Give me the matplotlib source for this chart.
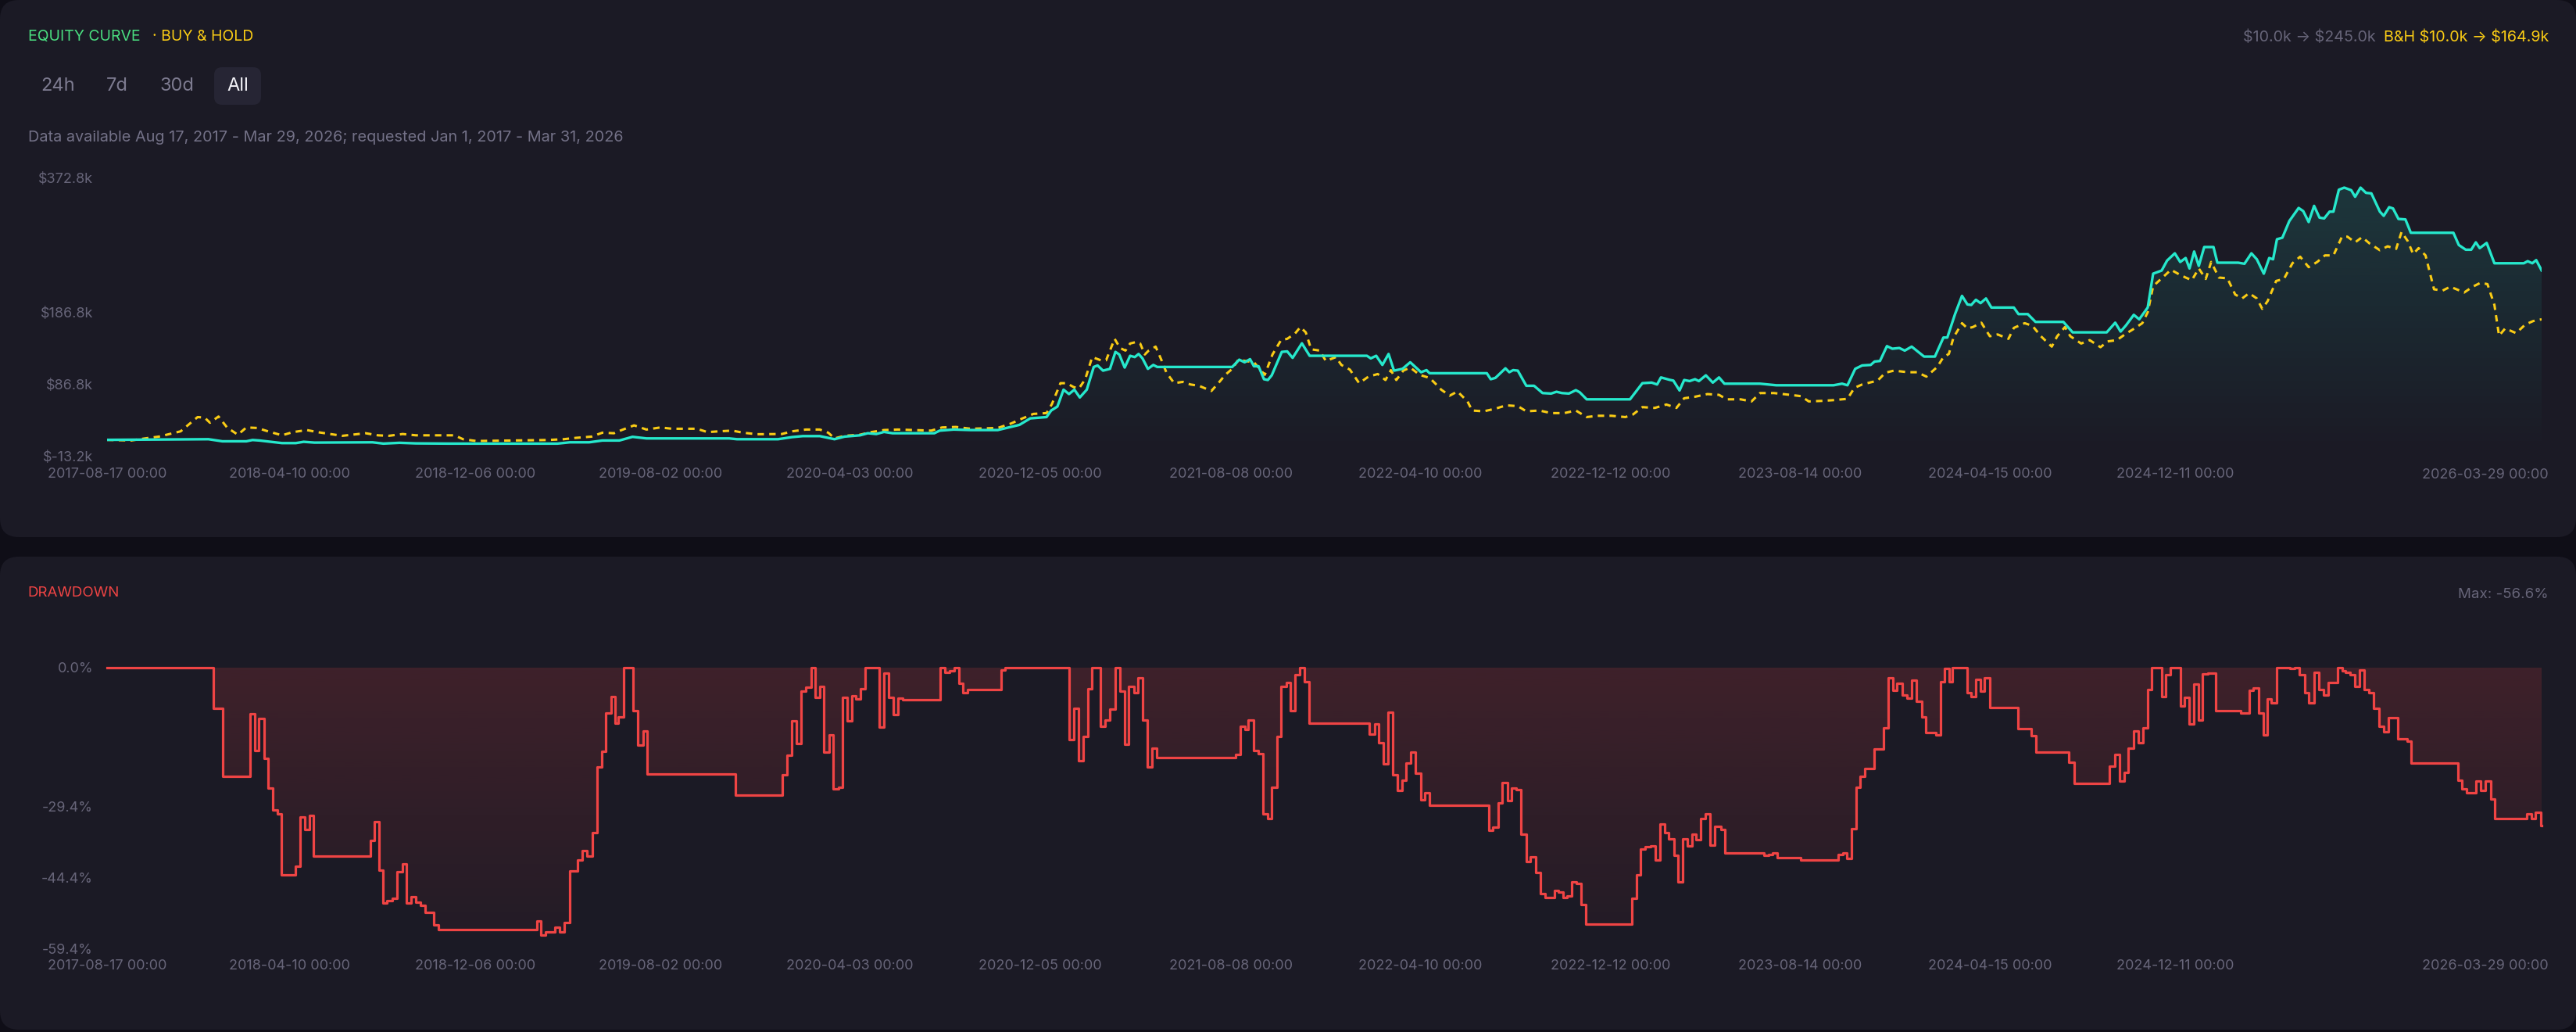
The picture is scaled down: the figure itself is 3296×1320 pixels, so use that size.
import matplotlib
matplotlib.use('Agg')
import matplotlib.pyplot as plt
import numpy as np
import pandas as pd
from matplotlib.colors import to_rgb
from matplotlib.patches import FancyBboxPatch
from matplotlib.transforms import IdentityTransform

plt.rcParams['font.family'] = ['Inter', 'DejaVu Sans']

# ---- data (values in $k and %) ----
EQ_DATES = [
    '2017-08-17', '2017-12-26', '2018-01-13', '2018-02-13', '2018-02-21', '2018-03-02', '2018-03-31',
    '2018-04-18', '2018-04-28', '2018-05-12', '2018-07-26', '2018-08-09', '2018-08-30', '2018-09-20',
    '2018-11-01', '2019-03-22', '2019-04-07', '2019-05-02', '2019-05-19', '2019-06-10', '2019-06-27',
    '2019-07-15', '2019-10-30', '2019-11-09', '2020-01-01', '2020-01-19', '2020-02-02', '2020-02-24',
    '2020-03-06', '2020-03-14', '2020-03-27', '2020-04-16', '2020-04-26', '2020-05-07', '2020-05-17',
    '2020-05-28', '2020-07-21', '2020-07-28', '2020-08-15', '2020-09-06', '2020-10-11', '2020-10-25',
    '2020-11-08', '2020-11-22', '2020-12-13', '2020-12-19', '2020-12-27', '2021-01-04', '2021-01-11',
    '2021-01-18', '2021-01-25', '2021-02-03', '2021-02-12', '2021-02-17', '2021-02-24', '2021-03-05',
    '2021-03-12', '2021-03-17', '2021-03-24', '2021-03-31', '2021-04-06', '2021-04-11', '2021-04-16',
    '2021-04-23', '2021-04-30', '2021-05-05', '2021-08-10', '2021-08-19', '2021-08-26', '2021-09-02',
    '2021-09-07', '2021-09-13', '2021-09-20', '2021-09-25', '2021-09-30', '2021-10-13', '2021-10-20',
    '2021-10-27', '2021-11-08', '2021-11-18', '2022-01-31', '2022-02-05', '2022-02-12', '2022-02-20',
    '2022-02-28', '2022-03-07', '2022-03-18', '2022-03-28', '2022-04-11', '2022-04-18', '2022-04-22',
    '2022-07-05', '2022-07-10', '2022-07-16', '2022-07-29', '2022-08-03', '2022-08-08', '2022-08-14',
    '2022-08-25', '2022-09-04', '2022-09-15', '2022-09-26', '2022-10-03', '2022-10-10', '2022-10-19',
    '2022-10-28', '2022-11-02', '2022-11-11', '2023-01-06', '2023-01-22', '2023-02-03', '2023-02-10',
    '2023-02-15', '2023-02-26', '2023-03-03', '2023-03-11', '2023-03-17', '2023-03-24', '2023-03-31',
    '2023-04-05', '2023-04-14', '2023-04-23', '2023-05-01', '2023-05-08', '2023-06-23', '2023-07-04',
    '2023-07-14', '2023-09-26', '2023-10-07', '2023-10-14', '2023-10-24', '2023-11-02', '2023-11-13',
    '2023-11-18', '2023-11-25', '2023-12-04', '2023-12-11', '2023-12-20', '2023-12-27', '2024-01-05',
    '2024-01-21', '2024-02-04', '2024-02-15', '2024-02-20', '2024-03-01', '2024-03-10', '2024-03-17',
    '2024-03-22', '2024-03-28', '2024-04-03', '2024-04-10', '2024-04-17', '2024-05-16', '2024-05-22',
    '2024-06-03', '2024-06-13', '2024-07-19', '2024-07-31', '2024-09-13', '2024-09-24', '2024-10-01',
    '2024-10-08', '2024-10-18', '2024-10-25', '2024-11-05', '2024-11-12', '2024-11-23', '2024-11-30',
    '2024-12-10', '2024-12-17', '2024-12-24', '2024-12-29', '2025-01-04', '2025-01-10', '2025-01-17',
    '2025-01-29', '2025-02-03', '2025-03-02', '2025-03-10', '2025-03-19', '2025-03-26', '2025-04-04',
    '2025-04-11', '2025-04-16', '2025-04-21', '2025-04-28', '2025-05-07', '2025-05-19', '2025-05-25',
    '2025-06-01', '2025-06-08', '2025-06-15', '2025-06-21', '2025-06-28', '2025-07-03', '2025-07-10',
    '2025-07-17', '2025-07-26', '2025-07-31', '2025-08-07', '2025-08-14', '2025-08-21', '2025-09-01',
    '2025-09-06', '2025-09-13', '2025-09-18', '2025-09-25', '2025-10-04', '2025-10-11', '2025-12-05',
    '2025-12-12', '2025-12-21', '2025-12-28', '2026-01-03', '2026-01-08', '2026-01-17', '2026-01-27',
    '2026-03-06', '2026-03-11', '2026-03-17', '2026-03-22', '2026-03-29',
]
EQ_VALUES = [
    10.0, 10.9, 8.0, 8.0, 9.8, 9.1, 5.5,
    5.5, 7.3, 6.2, 6.6, 4.8, 5.9, 5.1,
    4.8, 4.8, 6.6, 6.6, 9.1, 9.1, 14.2,
    12.0, 12.0, 10.9, 10.9, 13.8, 15.2, 15.2,
    12.7, 10.9, 14.5, 16.3, 19.2, 18.1, 21.0,
    19.2, 19.2, 22.8, 24.3, 23.6, 23.6, 27.2,
    30.8, 39.8, 41.6, 50.7, 56.1, 79.6, 73.5,
    79.6, 68.8, 79.6, 111.1, 113.2, 106.0, 108.5,
    132.0, 128.4, 110.3, 126.6, 124.8, 129.1, 123.0,
    108.5, 113.9, 111.1, 111.1, 121.2, 117.6, 121.9,
    112.1, 112.1, 94.1, 93.0, 99.5, 132.0, 132.7,
    123.7, 143.9, 126.6, 126.6, 123.0, 126.6, 113.9,
    129.1, 106.0, 108.5, 117.6, 103.8, 106.7, 102.4,
    102.4, 94.1, 95.9, 109.2, 103.8, 106.7, 106.0,
    85.0, 85.0, 74.9, 74.2, 76.7, 74.9, 74.2,
    78.9, 76.0, 66.2, 66.2, 88.6, 89.4, 86.8,
    96.6, 93.3, 92.2, 78.5, 93.0, 91.5, 94.1,
    91.5, 99.5, 89.4, 96.6, 87.9, 87.9, 86.8,
    85.7, 85.7, 87.9, 85.7, 108.5, 113.2, 113.9,
    118.6, 119.4, 140.0, 136.4, 137.4, 133.8, 139.3,
    125.5, 125.5, 151.9, 151.9, 184.4, 209.7, 197.8,
    197.1, 204.3, 199.6, 206.1, 193.5, 193.5, 184.4,
    184.4, 173.6, 173.6, 159.1, 159.1, 172.5, 160.2,
    168.9, 183.4, 177.2, 193.5, 240.5, 244.8, 258.6,
    268.7, 256.7, 262.2, 247.7, 271.2, 251.3, 277.4,
    277.4, 255.7, 255.7, 254.2, 268.7, 260.4, 240.5,
    262.2, 260.4, 288.2, 290.4, 313.5, 331.6, 327.2,
    312.1, 334.5, 318.2, 317.1, 326.5, 326.5, 356.9,
    359.8, 356.2, 347.1, 359.8, 352.6, 351.8, 326.5,
    320.7, 332.7, 330.9, 316.4, 315.7, 297.2, 297.2,
    280.2, 273.7, 273.7, 283.9, 275.9, 283.1, 254.9,
    254.9, 257.8, 254.9, 259.3, 245.0,
]

BH_DATES = [
    '2017-08-17', '2017-09-17', '2017-10-05', '2017-10-23', '2017-11-20', '2017-12-04', '2017-12-12',
    '2017-12-21', '2017-12-28', '2018-01-08', '2018-01-19', '2018-02-02', '2018-02-13', '2018-02-27',
    '2018-03-13', '2018-03-31', '2018-04-14', '2018-05-02', '2018-05-16', '2018-06-17', '2018-07-17',
    '2018-08-02', '2018-08-16', '2018-09-03', '2018-09-20', '2018-11-09', '2018-11-20', '2018-12-07',
    '2019-03-09', '2019-03-30', '2019-04-14', '2019-05-05', '2019-05-19', '2019-06-03', '2019-06-13',
    '2019-06-29', '2019-07-15', '2019-08-02', '2019-08-17', '2019-09-18', '2019-10-02', '2019-10-16',
    '2019-11-03', '2019-11-17', '2019-12-05', '2020-01-06', '2020-01-19', '2020-02-06', '2020-02-24',
    '2020-03-06', '2020-03-14', '2020-03-27', '2020-04-16', '2020-04-30', '2020-05-17', '2020-06-04',
    '2020-07-17', '2020-07-31', '2020-08-18', '2020-09-06', '2020-10-11', '2020-10-28', '2020-11-12',
    '2020-11-26', '2020-12-13', '2020-12-20', '2020-12-31', '2021-01-08', '2021-01-17', '2021-01-24',
    '2021-02-01', '2021-02-10', '2021-02-21', '2021-02-28', '2021-03-11', '2021-03-18', '2021-03-25',
    '2021-03-31', '2021-04-08', '2021-04-13', '2021-04-19', '2021-04-24', '2021-05-03', '2021-05-11',
    '2021-05-17', '2021-05-27', '2021-06-07', '2021-06-17', '2021-06-28', '2021-07-14', '2021-07-23',
    '2021-08-01', '2021-08-10', '2021-08-18', '2021-08-27', '2021-09-07', '2021-09-21', '2021-10-01',
    '2021-10-12', '2021-10-20', '2021-10-30', '2021-11-06', '2021-11-13', '2021-11-20', '2021-12-01',
    '2021-12-09', '2021-12-22', '2021-12-29', '2022-01-09', '2022-01-21', '2022-02-02', '2022-02-14',
    '2022-02-24', '2022-03-03', '2022-03-10', '2022-03-19', '2022-03-28', '2022-04-09', '2022-04-22',
    '2022-04-29', '2022-05-07', '2022-05-18', '2022-05-28', '2022-06-10', '2022-06-16', '2022-07-01',
    '2022-07-16', '2022-07-30', '2022-08-14', '2022-08-25', '2022-09-11', '2022-09-26', '2022-10-13',
    '2022-10-28', '2022-11-11', '2022-11-25', '2022-12-13', '2022-12-31', '2023-01-10', '2023-01-22',
    '2023-02-07', '2023-02-22', '2023-03-07', '2023-03-17', '2023-03-31', '2023-04-16', '2023-05-01',
    '2023-05-11', '2023-05-29', '2023-06-12', '2023-06-23', '2023-07-11', '2023-08-01', '2023-08-15',
    '2023-08-25', '2023-09-12', '2023-09-26', '2023-10-14', '2023-10-23', '2023-11-02', '2023-11-22',
    '2023-12-02', '2023-12-13', '2023-12-31', '2024-01-12', '2024-01-24', '2024-02-07', '2024-02-15',
    '2024-02-22', '2024-02-28', '2024-03-10', '2024-03-17', '2024-03-24', '2024-04-04', '2024-04-15',
    '2024-04-25', '2024-05-09', '2024-05-16', '2024-05-30', '2024-06-09', '2024-06-20', '2024-07-04',
    '2024-07-11', '2024-07-21', '2024-07-28', '2024-08-11', '2024-08-22', '2024-09-05', '2024-09-14',
    '2024-09-26', '2024-10-08', '2024-10-20', '2024-10-29', '2024-11-05', '2024-11-12', '2024-11-26',
    '2024-12-05', '2024-12-14', '2024-12-24', '2025-01-01', '2025-01-10', '2025-01-19', '2025-01-26',
    '2025-02-05', '2025-02-16', '2025-02-26', '2025-03-07', '2025-03-16', '2025-03-26', '2025-04-02',
    '2025-04-09', '2025-04-20', '2025-04-30', '2025-05-11', '2025-05-21', '2025-06-01', '2025-06-12',
    '2025-06-22', '2025-07-03', '2025-07-14', '2025-07-21', '2025-07-31', '2025-08-09', '2025-08-19',
    '2025-09-01', '2025-09-11', '2025-09-22', '2025-09-29', '2025-10-07', '2025-10-14', '2025-10-21',
    '2025-10-30', '2025-11-10', '2025-11-21', '2025-12-01', '2025-12-19', '2025-12-30', '2026-01-09',
    '2026-01-18', '2026-01-27', '2026-02-02', '2026-02-10', '2026-02-24', '2026-03-08', '2026-03-18',
    '2026-03-29',
]
BH_VALUES = [
    10.0, 9.1, 12.0, 14.5, 21.8, 34.4, 41.6,
    40.9, 33.7, 42.4, 27.2, 17.1, 27.2, 26.5,
    21.8, 16.3, 20.7, 23.6, 20.7, 15.6, 19.2,
    16.3, 15.6, 18.1, 16.3, 16.3, 10.9, 8.4,
    9.8, 10.9, 12.7, 14.5, 19.9, 19.2, 23.6,
    30.1, 24.3, 27.2, 25.4, 25.4, 20.7, 21.8,
    22.8, 19.9, 17.8, 18.1, 21.8, 24.3, 24.3,
    19.9, 12.0, 15.6, 17.1, 20.7, 23.6, 24.3,
    22.8, 27.2, 27.9, 25.4, 26.5, 32.6, 39.8,
    46.0, 47.1, 59.7, 88.6, 88.6, 83.2, 81.4,
    94.1, 124.8, 120.4, 120.4, 150.1, 137.4, 133.8,
    143.6, 145.8, 143.6, 128.4, 133.8, 139.3, 119.4,
    103.1, 88.6, 90.4, 86.8, 85.0, 77.8, 88.6,
    100.2, 108.5, 121.2, 119.4, 117.6, 100.2, 128.4,
    148.3, 150.1, 157.3, 166.4, 159.1, 135.6, 133.8,
    119.4, 124.8, 113.9, 107.4, 88.6, 97.7, 101.3,
    93.0, 106.7, 93.0, 106.0, 110.3, 100.2, 95.9,
    88.6, 79.6, 71.3, 77.1, 63.3, 50.7, 49.6,
    53.2, 57.9, 56.8, 49.6, 50.7, 47.1, 47.1,
    50.7, 41.6, 43.4, 43.4, 41.6, 45.3, 55.4,
    54.3, 59.0, 54.3, 67.7, 69.8, 73.5, 72.4,
    66.2, 66.2, 63.3, 74.9, 74.9, 72.4, 70.6,
    63.3, 64.1, 65.1, 66.9, 82.1, 86.8, 92.2,
    103.1, 106.0, 103.8, 103.8, 97.7, 111.1, 124.8,
    129.1, 151.9, 171.8, 164.6, 166.4, 172.5, 153.7,
    156.2, 150.1, 165.3, 171.8, 168.2, 153.7, 139.3,
    153.7, 166.4, 153.7, 143.6, 148.3, 138.5, 146.5,
    148.3, 157.3, 165.3, 171.8, 187.0, 223.1, 236.9,
    245.9, 240.5, 235.1, 231.4, 247.7, 233.2, 256.7,
    235.1, 234.0, 211.6, 206.1, 213.4, 206.1, 191.7,
    202.5, 230.4, 233.2, 254.9, 264.0, 249.5, 256.7,
    265.8, 265.8, 291.8, 291.8, 283.9, 291.1, 282.1,
    273.0, 278.4, 274.8, 298.3, 285.7, 267.6, 275.9,
    265.8, 218.8, 217.0, 222.4, 214.4, 222.4, 227.8,
    226.0, 197.1, 154.4, 164.6, 158.0, 170.0, 174.7,
    177.2,
]

DD_DATES = [
    '2017-08-17', '2018-01-01', '2018-01-13', '2018-02-18', '2018-02-24', '2018-03-01', '2018-03-08',
    '2018-03-13', '2018-03-19', '2018-03-25', '2018-03-30', '2018-04-17', '2018-04-23', '2018-04-30',
    '2018-05-06', '2018-05-11', '2018-07-23', '2018-07-28', '2018-08-03', '2018-08-09', '2018-08-14',
    '2018-08-21', '2018-08-27', '2018-09-03', '2018-09-08', '2018-09-14', '2018-09-20', '2018-09-26',
    '2018-10-02', '2018-10-13', '2018-10-19', '2019-02-23', '2019-03-01', '2019-03-07', '2019-03-19',
    '2019-03-25', '2019-03-31', '2019-04-07', '2019-04-17', '2019-04-23', '2019-04-29', '2019-05-06',
    '2019-05-12', '2019-05-18', '2019-05-23', '2019-05-30', '2019-06-04', '2019-06-09', '2019-06-16',
    '2019-06-28', '2019-07-04', '2019-07-11', '2019-07-16', '2019-11-07', '2020-01-07', '2020-01-13',
    '2020-01-19', '2020-01-25', '2020-01-31', '2020-02-06', '2020-02-13', '2020-02-18', '2020-02-24',
    '2020-02-29', '2020-03-07', '2020-03-12', '2020-03-19', '2020-03-24', '2020-03-30', '2020-04-05',
    '2020-04-11', '2020-04-17', '2020-04-23', '2020-05-11', '2020-05-17', '2020-05-23', '2020-05-29',
    '2020-06-04', '2020-06-10', '2020-07-29', '2020-08-04', '2020-08-10', '2020-08-16', '2020-08-22',
    '2020-08-27', '2020-09-02', '2020-10-15', '2020-10-20', '2021-01-11', '2021-01-17', '2021-01-23',
    '2021-01-29', '2021-02-04', '2021-02-10', '2021-02-21', '2021-02-27', '2021-03-05', '2021-03-12',
    '2021-03-18', '2021-03-24', '2021-03-29', '2021-04-05', '2021-04-10', '2021-04-16', '2021-04-22',
    '2021-04-28', '2021-05-04', '2021-08-14', '2021-08-20', '2021-08-26', '2021-08-31', '2021-09-07',
    '2021-09-13', '2021-09-19', '2021-09-25', '2021-09-30', '2021-10-07', '2021-10-12', '2021-10-19',
    '2021-10-24', '2021-10-30', '2021-11-05', '2021-11-11', '2021-11-17', '2022-02-03', '2022-02-10',
    '2022-02-15', '2022-02-21', '2022-02-27', '2022-03-05', '2022-03-11', '2022-03-17', '2022-03-23',
    '2022-03-29', '2022-04-04', '2022-04-11', '2022-04-16', '2022-04-22', '2022-07-08', '2022-07-13',
    '2022-07-20', '2022-07-25', '2022-08-01', '2022-08-06', '2022-08-12', '2022-08-18', '2022-08-25',
    '2022-08-30', '2022-09-06', '2022-09-12', '2022-09-18', '2022-09-30', '2022-10-05', '2022-10-12',
    '2022-10-17', '2022-10-23', '2022-10-29', '2022-11-04', '2022-11-10', '2023-01-08', '2023-01-14',
    '2023-01-20', '2023-01-26', '2023-02-02', '2023-02-08', '2023-02-14', '2023-02-20', '2023-02-25',
    '2023-03-04', '2023-03-09', '2023-03-15', '2023-03-21', '2023-03-27', '2023-04-01', '2023-04-07',
    '2023-04-13', '2023-04-19', '2023-04-25', '2023-05-04', '2023-05-09', '2023-06-28', '2023-07-04',
    '2023-07-09', '2023-07-15', '2023-08-15', '2023-10-02', '2023-10-08', '2023-10-13', '2023-10-19',
    '2023-10-25', '2023-10-30', '2023-11-05', '2023-11-18', '2023-11-30', '2023-12-06', '2023-12-12',
    '2023-12-17', '2023-12-24', '2023-12-30', '2024-01-05', '2024-01-11', '2024-01-18', '2024-01-23',
    '2024-02-05', '2024-02-11', '2024-02-16', '2024-02-22', '2024-02-27', '2024-03-17', '2024-03-22',
    '2024-03-28', '2024-04-03', '2024-04-08', '2024-04-15', '2024-05-21', '2024-06-07', '2024-06-14',
    '2024-07-26', '2024-08-02', '2024-09-17', '2024-09-24', '2024-09-30', '2024-10-06', '2024-10-11',
    '2024-10-18', '2024-10-24', '2024-10-30', '2024-11-05', '2024-11-10', '2024-11-23', '2024-11-28',
    '2024-12-04', '2024-12-17', '2024-12-22', '2024-12-29', '2025-01-04', '2025-01-10', '2025-01-15',
    '2025-01-22', '2025-02-01', '2025-03-05', '2025-03-16', '2025-03-21', '2025-03-28', '2025-04-03',
    '2025-04-09', '2025-04-14', '2025-04-21', '2025-05-08', '2025-05-14', '2025-05-20', '2025-05-27',
    '2025-06-01', '2025-06-08', '2025-06-14', '2025-06-20', '2025-06-26', '2025-07-02', '2025-07-08',
    '2025-07-14', '2025-07-19', '2025-07-25', '2025-07-31', '2025-08-06', '2025-08-12', '2025-08-18',
    '2025-08-24', '2025-08-31', '2025-09-06', '2025-09-12', '2025-09-24', '2025-10-06', '2025-10-11',
    '2025-12-11', '2025-12-16', '2025-12-22', '2026-01-03', '2026-01-09', '2026-01-15', '2026-01-22',
    '2026-01-27', '2026-03-10', '2026-03-16', '2026-03-21', '2026-03-28', '2026-03-29',
]
DD_VALUES = [
    0.0, -8.6, -23.0, -9.9, -17.6, -10.9, -19.2,
    -25.5, -30.1, -30.9, -43.9, -42.1, -31.6, -34.3,
    -31.3, -39.9, -36.6, -32.7, -42.8, -49.8, -49.3,
    -48.8, -43.2, -41.6, -49.8, -48.5, -49.7, -50.3,
    -51.8, -54.4, -55.4, -53.6, -56.6, -56.0, -54.9,
    -55.9, -53.9, -43.1, -40.7, -38.8, -39.9, -35.0,
    -21.1, -17.8, -9.7, -6.2, -11.8, -10.5, 0.0,
    -9.2, -16.4, -13.5, -22.6, -27.0, -22.8, -18.6,
    -11.3, -16.1, -5.1, -4.2, 0.0, -6.3, -4.1,
    -17.9, -14.3, -25.7, -25.3, -6.4, -11.3, -6.1,
    -6.7, -4.6, 0.0, -12.6, -1.3, -6.4, -10.0,
    -6.5, -6.8, 0.0, -1.1, -0.8, 0.0, -3.4,
    -5.3, -4.7, -0.5, 0.0, -15.3, -8.7, -19.7,
    -14.6, -4.6, 0.0, -12.5, -11.2, -8.8, 0.0,
    -5.1, -16.3, -4.1, -5.4, -2.2, -11.2, -21.1,
    -17.1, -19.1, -18.4, -12.5, -13.2, -11.1, -17.6,
    -18.2, -30.9, -32.0, -25.3, -14.6, -4.1, -3.3,
    -9.2, -1.6, 0.0, -3.0, -11.8, -14.1, -12.0,
    -15.9, -20.4, -9.5, -22.8, -26.1, -23.9, -20.2,
    -18.0, -22.4, -28.0, -26.6, -29.1, -34.5, -33.8,
    -28.6, -24.3, -28.1, -25.5, -25.9, -35.3, -41.1,
    -40.1, -43.4, -47.8, -48.7, -47.2, -47.5, -48.6,
    -48.3, -45.3, -45.7, -50.1, -54.2, -48.9, -43.9,
    -38.4, -38.0, -37.8, -40.8, -33.2, -35.0, -36.3,
    -39.7, -45.4, -36.3, -37.8, -35.3, -36.4, -32.0,
    -30.9, -37.6, -33.6, -34.3, -39.3, -39.7, -39.5,
    -39.3, -40.3, -40.7, -39.6, -39.3, -40.4, -34.1,
    -25.3, -23.0, -21.4, -17.2, -12.8, -2.3, -4.9,
    -3.4, -5.9, -6.6, -2.8, -7.2, -10.5, -13.8,
    -14.3, -3.0, -0.3, -3.0, 0.0, -5.3, -6.2,
    -2.6, -5.1, -2.3, -8.5, -13.0, -14.5, -18.0,
    -20.0, -24.5, -20.9, -18.4, -24.1, -22.2, -17.1,
    -13.5, -15.9, -12.8, -4.7, 0.0, -6.2, -1.6,
    0.0, -8.2, -6.4, -12.0, -3.6, -11.1, -1.4,
    -1.3, -9.1, -9.7, -4.9, -4.4, -9.7, -14.3,
    -6.7, -7.6, 0.0, -0.3, 0.0, -1.6, -5.3,
    -7.6, -1.0, -4.7, -5.9, -3.2, -3.3, 0.0,
    -0.7, -1.1, -1.6, -4.1, -0.5, -4.7, -5.3,
    -8.7, -12.4, -13.6, -10.7, -15.1, -15.6, -20.2,
    -23.9, -25.7, -26.6, -24.0, -26.1, -24.1, -27.8,
    -31.9, -30.9, -31.9, -30.6, -33.4, -33.4,
]

X_TICKS = ['2017-08-17', '2018-04-10', '2018-12-06', '2019-08-02', '2020-04-03', '2020-12-05',
           '2021-08-08', '2022-04-10', '2022-12-12', '2023-08-14', '2024-04-15', '2024-12-11',
           '2026-03-29']
EQ_YTICKS = [372.8, 186.8, 86.8, -13.2]
DD_YTICKS = [0.0, -29.4, -44.4, -59.4]

# ---- colours ----
BG = '#0f0e17'
CARD = '#1b1a25'
MUTED = '#676579'
TEAL = '#26e8cc'
GOLD = '#facc15'
RED = '#ef4444'
GREEN = '#4ade80'

W, H = 3296, 1320

eq_x = pd.to_datetime(EQ_DATES)
bh_x = pd.to_datetime(BH_DATES)
dd_x = pd.to_datetime(DD_DATES)
start, end = pd.Timestamp(EQ_DATES[0]), pd.Timestamp(EQ_DATES[-1])


def fx(x):
    return x / W


def fy(y):
    # y measured from the top of the image
    return 1 - y / H


def card(y_top, height, color=CARD, x=0, width=W, r=24):
    p = FancyBboxPatch((x, H - y_top - height), width, height,
                       boxstyle='round,pad=0,rounding_size=%d' % r,
                       transform=IdentityTransform(), facecolor=color, edgecolor='none', zorder=0)
    fig.add_artist(p)


def gradient_under(ax, x, y, base, color, a_top, a_bot, y_top, step=None):
    # fill between the curve and base with a vertical alpha gradient
    poly = ax.fill_between(x, y, base, facecolor='none', edgecolor='none', step=step)
    xn = np.asarray(matplotlib.dates.date2num(x))
    rgba = np.zeros((256, 1, 4))
    rgba[..., :3] = to_rgb(color)
    rgba[..., 3] = np.linspace(a_bot, a_top, 256).reshape(-1, 1)
    lo = min(base, np.min(y))
    im = ax.imshow(rgba, aspect='auto', origin='lower', interpolation='bilinear',
                   extent=[xn.min(), xn.max(), lo, y_top], zorder=1)
    im.set_clip_path(poly.get_paths()[0], transform=ax.transData)


def style_axis(ax, label_y):
    ax.set_facecolor('none')
    for s in ax.spines.values():
        s.set_visible(False)
    ax.tick_params(length=0, colors=MUTED, labelsize=13)
    ax.tick_params(axis='y', pad=13)
    ax.tick_params(axis='x', pad=10)
    ax.set_xlim(start, end)
    ax.set_xticks(pd.to_datetime(X_TICKS))
    # last label is pushed inside the card, right aligned
    ax.set_xticklabels([d + ' 00:00' for d in X_TICKS[:-1]] + [''])
    fig.text(fx(3261), fy(label_y), X_TICKS[-1] + ' 00:00', color=MUTED, fontsize=13,
             ha='right', va='center')


fig = plt.figure(figsize=(W / 100, H / 100), dpi=100, facecolor=BG)

# cards
card(0, 687)
card(712, 605)
card(86, 48, color='#262534', x=274, width=60, r=10)

# ---- equity axis ----
ax1 = fig.add_axes([fx(137), fy(584), fx(3252 - 137), (584 - 228) / H])
style_axis(ax1, 607)
gradient_under(ax1, eq_x, np.array(EQ_VALUES), EQ_YTICKS[-1], TEAL, 0.14, 0.0, max(EQ_VALUES))
ax1.plot(bh_x, BH_VALUES, color=GOLD, lw=2.2, dashes=(2.7, 2.2), zorder=3)
ax1.plot(eq_x, EQ_VALUES, color=TEAL, lw=2.4, zorder=4, solid_joinstyle='round')
ax1.set_ylim(EQ_YTICKS[-1], EQ_YTICKS[0])
ax1.set_yticks(EQ_YTICKS)
ax1.set_yticklabels(['\\$%.1fk' % v for v in EQ_YTICKS])
ax1.set_xlim(start, end)

# ---- drawdown axis ----
ax2 = fig.add_axes([fx(137), fy(1213), fx(3252 - 137), (1213 - 853.5) / H])
style_axis(ax2, 1236)
gradient_under(ax2, dd_x, np.array(DD_VALUES), 0.0, RED, 0.17, 0.04, 0.0, step='post')
ax2.plot(dd_x, DD_VALUES, color=RED, lw=2.3, drawstyle='steps-post', zorder=4, clip_on=False)
ax2.set_ylim(DD_YTICKS[-1], DD_YTICKS[0])
ax2.set_yticks(DD_YTICKS)
ax2.set_yticklabels(['%.1f%%' % v for v in DD_YTICKS])
ax2.set_xlim(start, end)

# ---- header texts ----
fig.text(fx(36), fy(47), 'EQUITY CURVE', color=GREEN, fontsize=14, va='center')
fig.text(fx(195), fy(47), '· BUY & HOLD', color=GOLD, fontsize=14, va='center')
fig.text(fx(3261), fy(48), 'B&H \\$10.0k \u2192 \\$164.9k', color=GOLD, fontsize=14.2, va='center', ha='right')
fig.text(fx(3040), fy(48), '\\$10.0k \u2192 \\$245.0k', color=MUTED, fontsize=14.2, va='center', ha='right')

for label, x in [('24h', 52), ('7d', 136), ('30d', 204)]:
    fig.text(fx(x), fy(110), label, color='#7d7b90', fontsize=17, va='center')
fig.text(fx(290), fy(110), 'All', color='#f2f2f7', fontsize=17, va='center')

fig.text(fx(36), fy(176), 'Data available Aug 17, 2017 - Mar 29, 2026; requested Jan 1, 2017 - Mar 31, 2026',
         color='#737187', fontsize=14.3, va='center')

fig.text(fx(35), fy(759), 'DRAWDOWN', color=RED, fontsize=13.5, va='center')
fig.text(fx(3261), fy(760), 'Max: -56.6%', color=MUTED, fontsize=13.5, va='center', ha='right')

fig.savefig('out.png', dpi=100, facecolor=BG)
